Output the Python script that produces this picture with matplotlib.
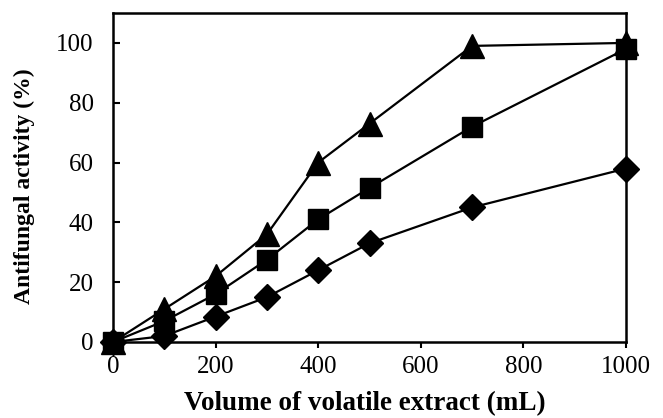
import numpy as np
import matplotlib
matplotlib.use("Agg")
from matplotlib import pyplot as plt

# volume of volatile extract (mL)
volume = [0, 100, 200, 300, 400, 500, 700, 1000]
# antifungal activity (%) for the three series
act_triangle = [0, 11, 22, 36, 60, 73, 99, 100]
act_square = [0, 7, 16, 27.5, 41, 51.5, 72, 98]
act_diamond = [0, 2, 8.5, 15, 24, 33, 45, 58]
err_diamond = [0, 1, 3, 1, 1, 1, 1, 1]

plt.rcParams['font.family'] = ['Liberation Serif', 'DejaVu Serif']

fig = plt.figure(figsize=(6.63, 4.18), dpi=100)
ax = fig.add_axes([113 / 663, 1 - 342 / 418, (626 - 113) / 663, (342 - 13) / 418])

ax.errorbar(volume, act_diamond, yerr=err_diamond, color='black', marker='D',
            markersize=13, linewidth=1.6, capsize=0, clip_on=False, zorder=3)
ax.plot(volume, act_square, color='black', marker='s', markersize=14,
        linewidth=1.6, clip_on=False, zorder=4)
ax.plot(volume, act_triangle, color='black', marker='^', markersize=17,
        linewidth=1.6, clip_on=False, zorder=5)

ax.set_xlim(0, 1000)
ax.set_ylim(0, 110)
ax.set_xticks([0, 200, 400, 600, 800, 1000])
ax.set_yticks([0, 20, 40, 60, 80, 100])
ax.tick_params(axis='x', direction='out', length=4, width=1.5, labelsize=18, pad=6)
ax.tick_params(axis='y', direction='in', length=5, width=1.5, labelsize=18, pad=14)
for s in ax.spines.values():
    s.set_linewidth(1.8)

ax.set_xlabel('Volume of volatile extract (mL)', fontsize=19.5, fontweight='bold')
ax.set_ylabel('Antifungal activity (%)', fontsize=17, fontweight='bold')
ax.xaxis.set_label_coords(0.49, -0.148)
ax.yaxis.set_label_coords(-0.152, 0.474)

fig.savefig('out.png', dpi=100)
